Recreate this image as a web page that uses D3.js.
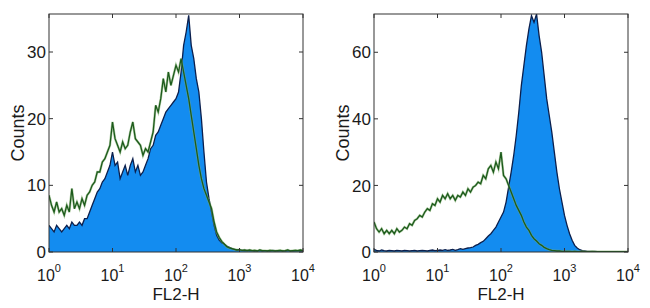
<!DOCTYPE html>
<html><head><meta charset="utf-8">
<script src="https://cdn.jsdelivr.net/npm/d3@7"></script>
<style>
body{margin:0;background:#fff}
svg{display:block}
text{font-family:"Liberation Sans",Arial,sans-serif;fill:#1a1a1a}
</style></head>
<body><svg id="c" width="650" height="308"></svg>
<script>
// channel grid in log10 units (FL2-H from 10^0 to 10^4)
const decades = d3.range(0, 4.0001, 0.04);

const leftBlue = [
 4,3.5,3,4,3.5,3,3.5,4,3.5,4.5,
 4,4,4.5,4,5,5,6,7,8,9,
 9.5,10.5,11,12,13,15,13,13.5,11,12,
 13,11.5,13,14,12,13,11.5,12,13,14,
 15.5,16,17.5,18,19,20,21,21.5,22,22.5,
 23,24,27,31,33,35.5,31,29,26,24,
 20,15,10.5,8,6,4,2.5,1.8,1.4,1.2,
 0.9,0.7,0.5,0.4,0.3,0.3,0.25,0.2,0.25,0.2,
 0.2,0.15,0.2,0.25,0.15,0.2,0.2,0.15,0.25,0.2,
 0.15,0.2,0.2,0.15,0.25,0.2,0.15,0.2,0.2,0.25,0.2
];
const leftGreen = [
 8.5,7,6,7.5,6,6.5,5.5,7,6,9.5,
 6.5,7.5,6.5,8,7,8.5,9,10,10.5,12,
 12,13.5,14,15,16,19.5,17,16,15,16.5,
 15.5,16,18,19.5,17,16.5,16,14.5,15.5,15,
 16.5,18,22,21,23,26,24,27,25,26.5,
 28,27,29,27,25,23,20.5,18,15.5,13,
 11,9.5,8.5,7.5,6.5,4.5,3,2.2,1.6,1.2,
 0.8,0.6,0.5,0.4,0.3,0.35,0.25,0.3,0.2,0.3,
 0.2,0.25,0.15,0.3,0.2,0.2,0.15,0.25,0.2,0.15,
 0.2,0.25,0.15,0.2,0.3,0.15,0.2,0.25,0.2,0.3,0.2
];
const rightBlue = [
 0.8,0.5,0.3,0.6,0.4,0.3,0.5,0.4,0.3,0.5,
 0.4,0.3,0.5,0.4,0.3,0.4,0.5,0.3,0.4,0.5,
 0.4,0.3,0.5,0.6,0.4,0.5,0.6,0.5,0.7,0.5,
 0.6,0.8,0.5,0.7,1.0,0.8,1.0,1.2,1.3,1.5,
 2.0,2.3,2.8,3.2,4.0,4.8,5.5,6.5,7.5,9.0,
 10.5,12,15,19.5,24,29,35,42,50,56,
 62,67,71,69,71.5,65,60,53,46,41,
 36,30,24,19,15,11,8,5.5,3.5,2,
 1.2,0.7,0.4,0.3,0.2,0.15,0.1,0.15,0.1,0.1,
 0.1,0.1,0.1,0.1,0.1,0.1,0.1,0.1,0.1,0.1,0.1
];
const rightGreen = [
 9,7,6,7,5.5,6.5,5.5,6.5,5.5,7,
 6,6.5,7.5,7,8.5,8,9.5,10,11,10.5,
 12,13,12.5,14.5,14,16,15,17,16,17.5,
 16,17,15.5,17,16.5,18,17,19,18,19.5,
 20,21,20.5,23,22,25,26,24,27,25,
 30,23,22,20,18,16,14,12.5,11,9,
 7.5,6.5,5,4,3.3,2.5,2,1.4,1,0.7,
 0.5,0.4,0.3,0.3,0.2,0.2,0.15,0.2,0.1,0.15,
 0.1,0.1,0.15,0.1,0.1,0.1,0.15,0.1,0.1,0.1,
 0.1,0.1,0.1,0.1,0.1,0.1,0.1,0.1,0.1,0.1,0.1
];

const xTickExponents = [0,1,2,3,4];
const leftYTicks = [0,10,20,30];
const rightYTicks = [0,20,40,60];
const xLabel = "FL2-H";
const yLabel = "Counts";

const panels = [
  {x0:49, x1:303, yMax:35.7, yTicks:leftYTicks, filled:leftBlue, open:leftGreen},
  {x0:374, x1:628, yMax:71.5, yTicks:rightYTicks, filled:rightBlue, open:rightGreen}
];
const plotTop = 14, plotBottom = 252;
const svg = d3.select("#c");

panels.forEach((p, k) => {
  const x = d3.scaleLog().domain([1, 1e4]).range([p.x0, p.x1]);
  const y = d3.scaleLinear().domain([0, p.yMax]).range([plotBottom, plotTop]);
  const g = svg.append("g");
  const cid = "clip" + k;
  g.append("clipPath").attr("id", cid).append("rect")
    .attr("x", p.x0).attr("y", plotTop).attr("width", p.x1 - p.x0).attr("height", plotBottom - plotTop);
  const plot = g.append("g").attr("clip-path", `url(#${cid})`);
  const xs = (v, i) => x(Math.pow(10, decades[i]));
  const area = d3.area().x(xs).y0(y(0)).y1(v => y(v));
  const line = d3.line().x(xs).y(v => y(v));
  plot.append("path").attr("d", area(p.filled)).attr("fill", "#138cf0");
  plot.append("path").attr("d", line(p.filled)).attr("fill", "none")
    .attr("stroke", "#0b1f4d").attr("stroke-width", 1.3);
  plot.append("path").attr("d", line(p.open)).attr("fill", "none")
    .attr("stroke", "#7fae6a").attr("stroke-width", 2.4).attr("opacity", 0.6);
  plot.append("path").attr("d", line(p.open)).attr("fill", "none")
    .attr("stroke", "#1c5a1c").attr("stroke-width", 1.3);

  g.append("rect").attr("x", p.x0).attr("y", plotTop).attr("width", p.x1 - p.x0)
    .attr("height", plotBottom - plotTop).attr("fill", "none").attr("stroke", "#333").attr("stroke-width", 1);

  const tl = 4;
  xTickExponents.forEach(e => {
    const xx = x(Math.pow(10, e));
    g.append("line").attr("x1", xx).attr("x2", xx).attr("y1", plotTop).attr("y2", plotTop + tl).attr("stroke", "#333");
    g.append("line").attr("x1", xx).attr("x2", xx).attr("y1", plotBottom).attr("y2", plotBottom - tl).attr("stroke", "#333");
    const t = g.append("text").attr("x", xx).attr("y", 281).attr("text-anchor", "middle").attr("font-size", 16);
    t.append("tspan").text("10");
    t.append("tspan").attr("dy", -9).attr("font-size", 11).text(String(e));
  });
  p.yTicks.forEach(v => {
    const yy = y(v);
    g.append("line").attr("x1", p.x0).attr("x2", p.x0 + tl).attr("y1", yy).attr("y2", yy).attr("stroke", "#333");
    g.append("line").attr("x1", p.x1).attr("x2", p.x1 - tl).attr("y1", yy).attr("y2", yy).attr("stroke", "#333");
    g.append("text").attr("x", p.x0 - 3).attr("y", yy).attr("dy", "0.36em")
      .attr("text-anchor", "end").attr("font-size", 17).text(v);
  });
  g.append("text").attr("x", (p.x0 + p.x1) / 2).attr("y", 300).attr("text-anchor", "middle")
    .attr("font-size", 17).text(xLabel);
  g.append("text").attr("transform", `translate(${p.x0 - 31},133) rotate(-90)`)
    .attr("text-anchor", "middle").attr("dy", "0.36em").attr("font-size", 18).text(yLabel);
});
</script></body></html>
